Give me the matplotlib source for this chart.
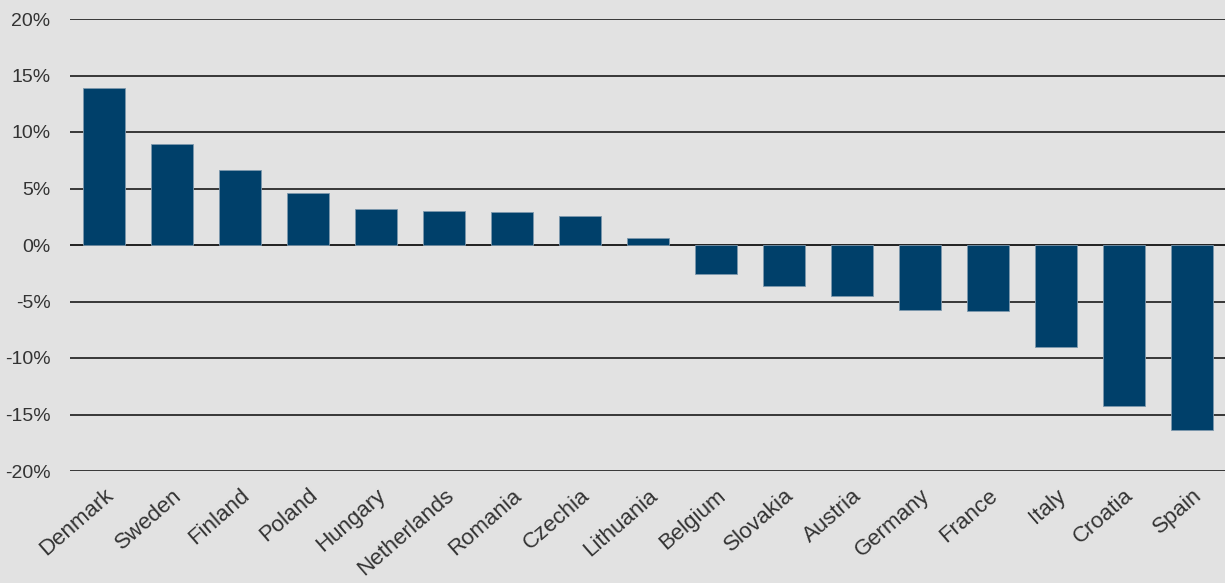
import matplotlib
matplotlib.use("Agg")
import matplotlib.pyplot as plt
from matplotlib.ticker import FuncFormatter

countries = ["Denmark", "Sweden", "Finland", "Poland", "Hungary", "Netherlands",
             "Romania", "Czechia", "Lithuania", "Belgium", "Slovakia", "Austria",
             "Germany", "France", "Italy", "Croatia", "Spain"]
change_pct = [13.9, 8.9, 6.6, 4.6, 3.2, 3.0, 2.95, 2.55, 0.6, -2.55, -3.65,
              -4.5, -5.75, -5.8, -9.0, -14.25, -16.4]
y_ticks = [-20, -15, -10, -5, 0, 5, 10, 15, 20]

bg = "#e2e2e2"
bar_color = "#00406a"

plt.rcParams["font.family"] = ["Liberation Sans", "DejaVu Sans"]

fig = plt.figure(figsize=(12.25, 5.83), dpi=100, facecolor=bg)
ax = fig.add_axes([70 / 1225, 112 / 583, 1156 / 1225, 452 / 583], facecolor=bg)

x = list(range(len(countries)))
ax.bar(x, change_pct, width=0.62, color=bar_color, edgecolor="#7d98ad",
       linewidth=0.6, zorder=3)

for t in y_ticks:
    ax.axhline(t, color="#2a2a2a" if t != 0 else "#111111", linewidth=1.3, zorder=2)

ax.set_xlim(-0.5, len(countries) - 0.5)
ax.set_ylim(-20, 20)
ax.set_yticks(y_ticks)
ax.yaxis.set_major_formatter(FuncFormatter(lambda v, p: f"{int(v)}%"))
ax.set_xticks(x)
ax.set_xticklabels(countries, rotation=41, ha="right", va="top",
                   rotation_mode="anchor")

for s in ax.spines.values():
    s.set_visible(False)
ax.tick_params(axis="y", length=0, pad=14, labelsize=14, labelcolor="#333333")
ax.tick_params(axis="x", length=0, pad=10, labelsize=16, labelcolor="#333333")

fig.savefig("out.png", dpi=100, facecolor=bg)
